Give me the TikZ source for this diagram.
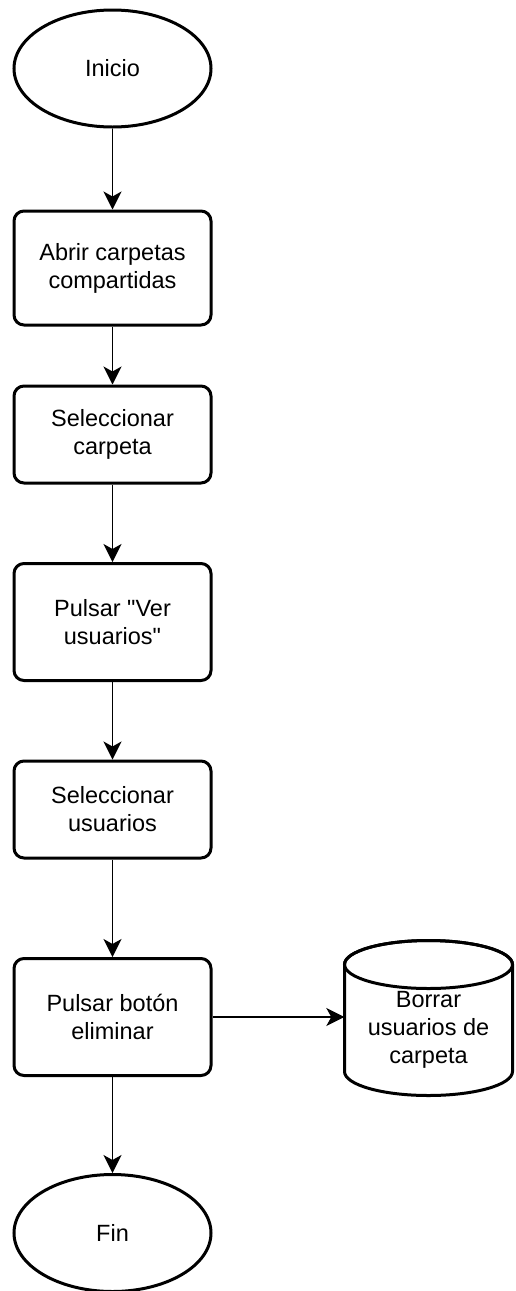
\documentclass[tikz,border=0pt]{standalone}
\usepackage{fontspec}
\setmainfont{Liberation Sans}
\usetikzlibrary{arrows.meta,shapes.geometric}
\begin{document}
\begin{tikzpicture}[x=1pt,y=1pt,
  every node/.style={font=\fontsize{23.5}{28}\selectfont, align=center},
  terminal/.style={ellipse, draw, line width=3pt, minimum width=197pt, minimum height=117pt, inner sep=0pt},
  stepbox/.style={rectangle, draw, line width=3pt, rounded corners=10pt, minimum width=197pt, inner sep=0pt},
  flow/.style={line width=1.7pt, -{Stealth[length=18pt,width=18pt,inset=5pt]}}
]
\useasboundingbox (0,0) rectangle (515,-1291);

% terminals
\node[terminal] (inicio) at (112.5,-68.5) {Inicio};
\node[terminal] (fin) at (112.5,-1233) {Fin};

% process steps
\node[stepbox, minimum height=114pt] (abrir) at (112.5,-268) {Abrir carpetas\\compartidas};
\node[stepbox, minimum height=97pt] (selcarp) at (112.5,-434.5) {Seleccionar\\carpeta};
\node[stepbox, minimum height=117pt] (verusu) at (112.5,-622) {Pulsar \textquotedbl Ver\\usuarios\textquotedbl};
\node[stepbox, minimum height=97pt] (selusu) at (112.5,-809.5) {Seleccionar\\usuarios};
\node[stepbox, minimum height=117pt] (eliminar) at (112.5,-1017) {Pulsar botón\\eliminar};

% database cylinder
\draw[line width=3pt, fill=white]
  (344.5,-964.5) -- (344.5,-1071.5)
  arc[start angle=180, end angle=360, x radius=84, y radius=24]
  -- (512.5,-964.5)
  arc[start angle=0, end angle=180, x radius=84, y radius=24] -- cycle;
\draw[line width=3pt] (428.5,-964.5) ellipse[x radius=84, y radius=24];
\node[minimum width=168pt, minimum height=131pt, inner sep=0pt] (borrar) at (428.5,-1030)
  {Borrar\\usuarios de\\carpeta};

% connectors
\draw[flow] (inicio) -- (abrir);
\draw[flow] (abrir) -- (selcarp);
\draw[flow] (selcarp) -- (verusu);
\draw[flow] (verusu) -- (selusu);
\draw[flow] (selusu) -- (eliminar);
\draw[flow] (eliminar) -- (fin);
\draw[flow] (eliminar.east) -- (eliminar.east -| borrar.west);
\end{tikzpicture}
\end{document}
